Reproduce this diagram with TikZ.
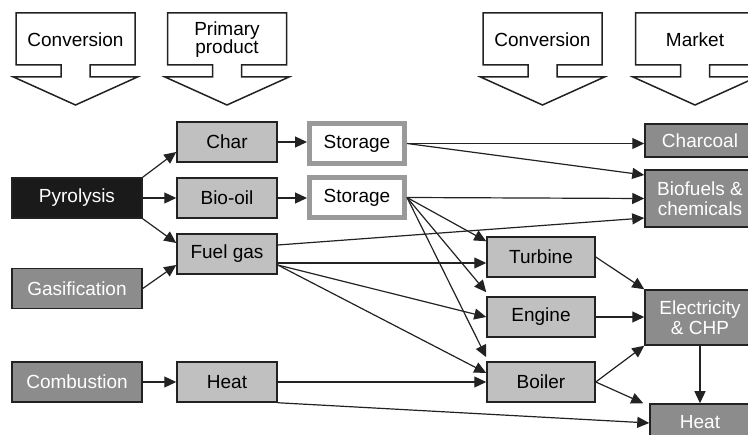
\documentclass[tikz,border=0pt]{standalone}
\usepackage{fontspec}
\setmainfont{Liberation Sans}
\usetikzlibrary{arrows.meta, calc}
\definecolor{bmblack}{HTML}{1A1A1A}
\definecolor{bmdark}{HTML}{8C8C8C}
\definecolor{bmlight}{HTML}{C0C0C0}
\definecolor{bmframe}{HTML}{9A9A9A}
\definecolor{bmline}{HTML}{222222}

\begin{document}
\begin{tikzpicture}[
  x=1pt, y=-1pt,
  every node/.style={font=\fontsize{19}{20}\selectfont},
  box/.style={rectangle, draw=bmline, line width=1.5pt, fill=#1, align=center, inner sep=0pt},
  proc/.style={box=bmdark, text=white, minimum width=130pt, minimum height=40pt},
  prod/.style={box=bmlight, minimum width=100pt, minimum height=40pt},
  conv/.style={box=bmlight, minimum width=108pt, minimum height=40pt},
  mkt/.style={box=bmdark, text=white, minimum width=110pt},
  store/.style={rectangle, draw=bmframe, line width=5pt, fill=white, minimum width=95pt, minimum height=40pt},
  edge/.style={-{Triangle[length=12pt, width=11pt]}, line width=1.2pt, draw=bmline},
  header/.style={draw=bmline, line width=1.5pt, fill=white, line join=miter},
]
\useasboundingbox (0,0) rectangle (748,435);
\clip (0,0) rectangle (748,435);

% Header arrows
\foreach \cx/\txt [count=\i] in {75.5/Conversion, 227/{Primary\\[-2pt]product}, 542.5/Conversion, 695/Market} {
  \draw[header] ({\cx-59.5},13) -- ({\cx+59.5},13) -- ({\cx+59.5},65) -- ({\cx+14.5},65)
    -- ({\cx+14.5},77) -- ({\cx+62},77) -- (\cx,105) -- ({\cx-62},77) -- ({\cx-14.5},77)
    -- ({\cx-14.5},65) -- ({\cx-59.5},65) -- cycle;
  \node[align=center] (hdr\i) at (\cx,40) {\txt};
}

% Conversion processes
\node[proc, fill=bmblack] (pyro) at (77,198) {Pyrolysis};
\node[proc] (gasif) at (77,288.5) {Gasification};
\node[proc] (combust) at (77,382) {Combustion};

% Primary products
\node[prod] (char) at (227,142) {Char};
\node[prod] (biooil) at (227,198) {Bio-oil};
\node[prod] (fuelgas) at (227,254) {Fuel gas};
\node[prod] (heatp) at (227,382) {Heat};

% Storage
\node[store] (store1) at (357,143.5) {Storage};
\node[store] (store2) at (357,197.5) {Storage};

% Secondary conversion
\node[conv] (turbine) at (541,257) {Turbine};
\node[conv] (engine) at (541,317) {Engine};
\node[conv] (boiler) at (541,382) {Boiler};

% Market
\node[mkt, minimum height=33pt] (charcoal) at (700,140.5) {Charcoal};
\node[mkt, minimum height=57pt] (biofuel) at (700,198.5) {Biofuels \&\\chemicals};
\node[mkt, minimum height=55pt] (elec) at (700,317.5) {Electricity\\\& CHP};
\node[mkt, minimum width=100pt, minimum height=36pt] (heatm) at (700,422) {Heat};

% Edges
\draw[edge] (pyro.north east) -- ([yshift=-10pt]char.west);
\draw[edge] (pyro.east) -- (biooil.west);
\draw[edge] (pyro.south east) -- ([yshift=11pt]fuelgas.west);
\draw[edge] (gasif.east) -- ([yshift=-11pt]fuelgas.west);
\draw[edge] (combust.east) -- (heatp.west);
\draw[edge] (char.east) -- (char.east -| store1.west);
\draw[edge] (biooil.east) -- (biooil.east -| store2.west);
\draw[edge] (store1.east) -- (store1.east -| charcoal.west);
\draw[edge] (store1.east) -- ([yshift=23.5pt]biofuel.west);
\draw[edge] (store2.east) -- (biofuel.west);
\draw[edge] ([yshift=9pt]fuelgas.east) -- ([yshift=-19.5pt]biofuel.west);
\draw[edge] (store2.east) -- ([yshift=-5pt]turbine.north west);
\draw[edge] (store2.east) -- ([yshift=4pt]engine.north west);
\draw[edge] (store2.east) -- ([yshift=4pt]boiler.north west);
\draw[edge] ([yshift=-9pt]fuelgas.east) -- ([yshift=-6pt]turbine.west);
\draw[edge] ([yshift=-11pt]fuelgas.east) -- (engine.west);
\draw[edge] ([yshift=-11pt]fuelgas.east) -- ([yshift=9pt]boiler.west);
\draw[edge] (heatp.east) -- (boiler.west);
\draw[edge] (heatp.south east) -- ([yshift=-1pt]heatm.west);
\draw[edge] (turbine.east) -- (elec.north west);
\draw[edge] (engine.east) -- (engine.east -| elec.west);
\draw[edge] (boiler.east) -- (elec.south west);
\draw[edge] (boiler.east) -- ([xshift=-6pt]heatm.north west);
\draw[edge] (elec.south) -- (heatm.north);

\end{tikzpicture}
\end{document}
